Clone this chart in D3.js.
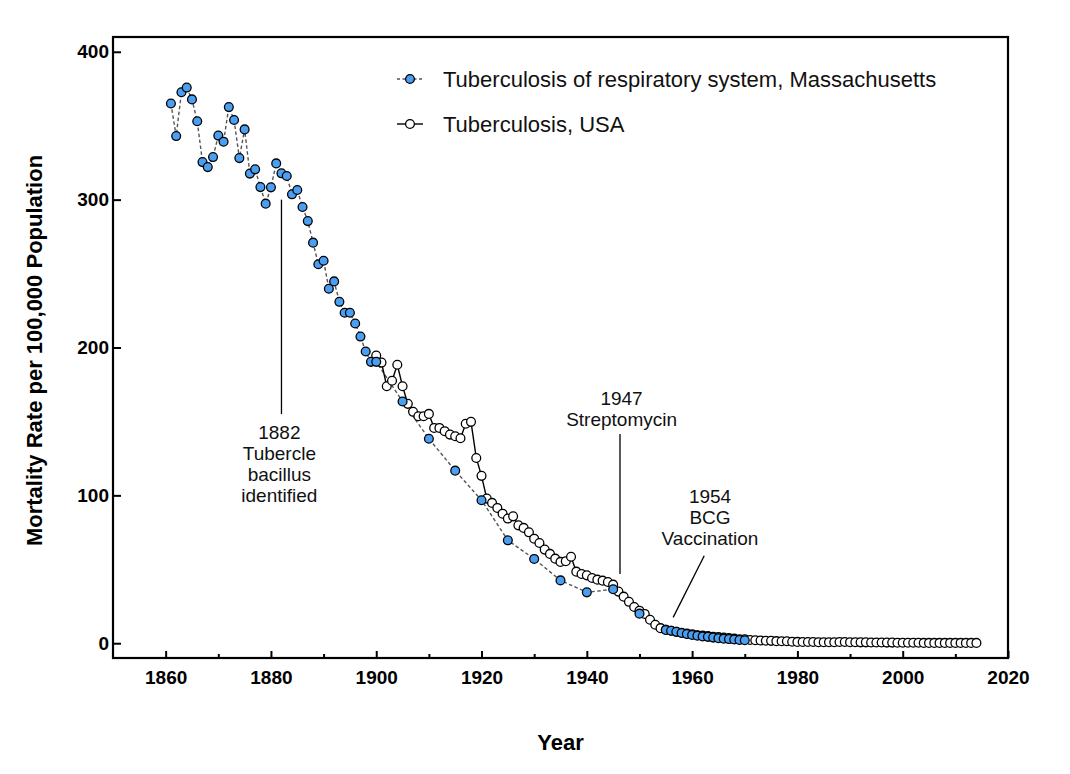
<!DOCTYPE html>
<html>
<head>
<meta charset="utf-8">
<script src="https://cdn.jsdelivr.net/npm/d3@7.9.0/dist/d3.min.js"></script>
<style>
  body { margin: 0; background: #fff; }
  svg { display: block; font-family: "Liberation Sans", Arial, sans-serif; }
</style>
</head>
<body>
<svg id="chart" width="1070" height="774"></svg>
<script>
// Massachusetts, tuberculosis of respiratory system
const maYears = [
  1861, 1862, 1863, 1864, 1865, 1866, 1867, 1868, 1869, 1870,
  1871, 1872, 1873, 1874, 1875, 1876, 1877, 1878, 1879, 1880,
  1881, 1882, 1883, 1884, 1885, 1886, 1887, 1888, 1889, 1890,
  1891, 1892, 1893, 1894, 1895, 1896, 1897, 1898, 1899, 1900,
  1905, 1910, 1915, 1920, 1925, 1930, 1935, 1940, 1945, 1950,
  1955, 1956, 1957, 1958, 1959, 1960, 1961, 1962, 1963, 1964,
  1965, 1966, 1967, 1968, 1969, 1970
];
const maRates = [
  365, 343, 372.6, 375.8, 367.8, 353, 325.4, 322, 328.8, 343.3,
  339.2, 362.6, 353.9, 328.1, 347.5, 317.6, 320.5, 308.5, 297.3, 308.3,
  324.5, 317.8, 316, 303.6, 306.5, 295, 285.5, 270.9, 256.3, 258.7,
  239.7, 244.7, 230.9, 223.5, 223.5, 216.2, 207.4, 197.3, 190.3, 190.3,
  163.5, 138.3, 116.7, 96.7, 69.6, 57, 42.5, 34.4, 36.5, 20,
  9.0, 8.4, 7.7, 6.9, 6.2, 5.6, 5.1, 4.6, 4.3, 3.8,
  3.4, 3.1, 2.8, 2.5, 2.2, 2.0
];

// USA, tuberculosis, 1900-2014
const usYears = d3.range(1900, 2015);
const usRates = [
  194.6, 189.8, 173.8, 177.5, 188.3, 173.8, 161.9, 156.5, 153.5, 153.5,
  155.1, 145.6, 145.6, 143.4, 141.1, 140, 138.6, 148.4, 149.7, 125.3,
  113.2, 97.8, 94.9, 91.5, 87.6, 84.3, 85.8, 79.7, 78, 75,
  70.7, 67.8, 63.3, 60.4, 57.2, 55, 55.4, 58.5, 48.4, 46.8,
  45.9, 44.1, 43, 42.3, 41.4, 39.6, 34.9, 31.5, 28, 24.5,
  22, 19.8, 15.9, 12.5, 10.2, 9.1, 8.4, 7.8, 7.1, 6.5,
  6.1, 5.4, 5.1, 4.9, 4.3, 4.1, 3.9, 3.5, 3.1, 2.6,
  2.6, 2.2, 2.0, 1.8, 1.7, 1.6, 1.4, 1.3, 1.3, 1.0,
  0.9, 0.8, 0.8, 0.8, 0.7, 0.7, 0.7, 0.7, 0.8, 0.8,
  0.7, 0.7, 0.6, 0.6, 0.5, 0.5, 0.5, 0.4, 0.4, 0.3,
  0.3, 0.3, 0.3, 0.3, 0.2, 0.2, 0.2, 0.2, 0.2, 0.2,
  0.2, 0.2, 0.2, 0.2, 0.2
];

const xTicks = [1860, 1880, 1900, 1920, 1940, 1960, 1980, 2000, 2020];
const xMinorTicks = [1870, 1890, 1910, 1930, 1950, 1970, 1990, 2010];
const yTicks = [0, 100, 200, 300, 400];

const legendLabels = ['Tuberculosis of respiratory system, Massachusetts', 'Tuberculosis, USA'];

// annotation text and the line that points at the data: [year, rate] ends
const notes = [
  { lines: ['1882', 'Tubercle', 'bacillus', 'identified'], at: [1881.6, 138], from: [1882, 300], to: [1882, 155] },
  { lines: ['1947', 'Streptomycin'], at: [1946.6, 161], from: [1946.3, 141.5], to: [1946.3, 46.8] },
  { lines: ['1954', 'BCG', 'Vaccination'], at: [1963.4, 95], from: [1962.3, 59.2], to: [1956.4, 17.5] }
];

const blue = '#4b9ff2';

let svg = d3.select('#chart');
let x = d3.scaleLinear().domain([1850, 2020]).range([113, 1008]);
let y = d3.scaleLinear().domain([-10, 410]).range([658, 37]);

// frame
svg.append('rect')
  .attr('x', x(1850)).attr('y', y(410))
  .attr('width', x(2020) - x(1850)).attr('height', y(-10) - y(410))
  .attr('fill', 'none').attr('stroke', '#000').attr('stroke-width', 2.2);

// x axis, ticks point inwards
let xAxis = svg.append('g').attr('transform', `translate(0,${y(-10)})`)
  .call(d3.axisBottom(x).tickValues(xTicks).tickSize(-7).tickPadding(13).tickFormat(d3.format('d')));
svg.append('g').attr('transform', `translate(0,${y(-10)})`)
  .call(d3.axisBottom(x).tickValues(xMinorTicks).tickSize(-4).tickFormat(''))
  .call(g => g.select('.domain').remove())
  .selectAll('line').attr('stroke-width', 2);
let yAxis = svg.append('g').attr('transform', `translate(${x(1850)},0)`)
  .call(d3.axisLeft(y).tickValues(yTicks).tickSize(-8).tickPadding(4));

[xAxis, yAxis].forEach(g => {
  g.select('.domain').remove();
  g.selectAll('line').attr('stroke-width', 2);
  g.selectAll('text')
    .attr('font-family', '"Liberation Sans", Arial, sans-serif')
    .attr('font-size', 19).attr('font-weight', 'bold').attr('fill', '#000');
});

// axis titles
svg.append('text')
  .attr('x', (x(1850) + x(2020)) / 2).attr('y', 750)
  .attr('text-anchor', 'middle').attr('font-size', 22).attr('font-weight', 'bold')
  .text('Year');
svg.append('text')
  .attr('transform', `translate(42,${(y(-10) + y(410)) / 2 + 3}) rotate(-90)`)
  .attr('text-anchor', 'middle').attr('font-size', 22).attr('font-weight', 'bold')
  .text('Mortality Rate per 100,000 Population');

// annotations
notes.forEach(n => {
  svg.append('line')
    .attr('x1', x(n.from[0])).attr('y1', y(n.from[1]))
    .attr('x2', x(n.to[0])).attr('y2', y(n.to[1]))
    .attr('stroke', '#000').attr('stroke-width', 1.3);
  let t = svg.append('text')
    .attr('x', x(n.at[0])).attr('y', y(n.at[1]))
    .attr('text-anchor', 'middle').attr('font-size', 19).attr('fill', '#111');
  n.lines.forEach((s, i) => {
    t.append('tspan').attr('x', x(n.at[0])).attr('dy', i === 0 ? 0 : 21).text(s);
  });
});

let maData = maYears.map((yr, i) => ({ year: yr, rate: maRates[i] }));
let usData = usYears.map((yr, i) => ({ year: yr, rate: usRates[i] }));
let line = d3.line().x(d => x(d.year)).y(d => y(d.rate));

svg.append('path').datum(maData)
  .attr('d', line).attr('fill', 'none')
  .attr('stroke', '#555').attr('stroke-width', 1.4).attr('stroke-dasharray', '3.5,2.5');
svg.append('path').datum(usData)
  .attr('d', line).attr('fill', 'none')
  .attr('stroke', '#000').attr('stroke-width', 1.4);

svg.append('g').selectAll('circle').data(usData).join('circle')
  .attr('cx', d => x(d.year)).attr('cy', d => y(d.rate)).attr('r', 4.4)
  .attr('fill', '#fff').attr('stroke', '#000').attr('stroke-width', 1.3);
svg.append('g').selectAll('circle').data(maData).join('circle')
  .attr('cx', d => x(d.year)).attr('cy', d => y(d.rate)).attr('r', 4.4)
  .attr('fill', blue).attr('stroke', '#000').attr('stroke-width', 1.3);

// legend
let legend = svg.append('g').attr('transform', 'translate(397,79)');
legendLabels.forEach((label, i) => {
  let row = legend.append('g').attr('transform', `translate(0,${i * 45})`);
  row.append('line').attr('x1', 0).attr('x2', 26).attr('y1', 0).attr('y2', 0)
    .attr('stroke', i === 0 ? '#555' : '#000').attr('stroke-width', 1.4)
    .attr('stroke-dasharray', i === 0 ? '3,2.5' : null);
  row.append('circle').attr('cx', 13).attr('cy', 0).attr('r', 4.4)
    .attr('fill', i === 0 ? blue : '#fff').attr('stroke', '#000').attr('stroke-width', 1.3);
  row.append('text').attr('x', 46).attr('y', 8).attr('font-size', 22).attr('fill', '#111')
    .text(label);
});
</script>
</body>
</html>
